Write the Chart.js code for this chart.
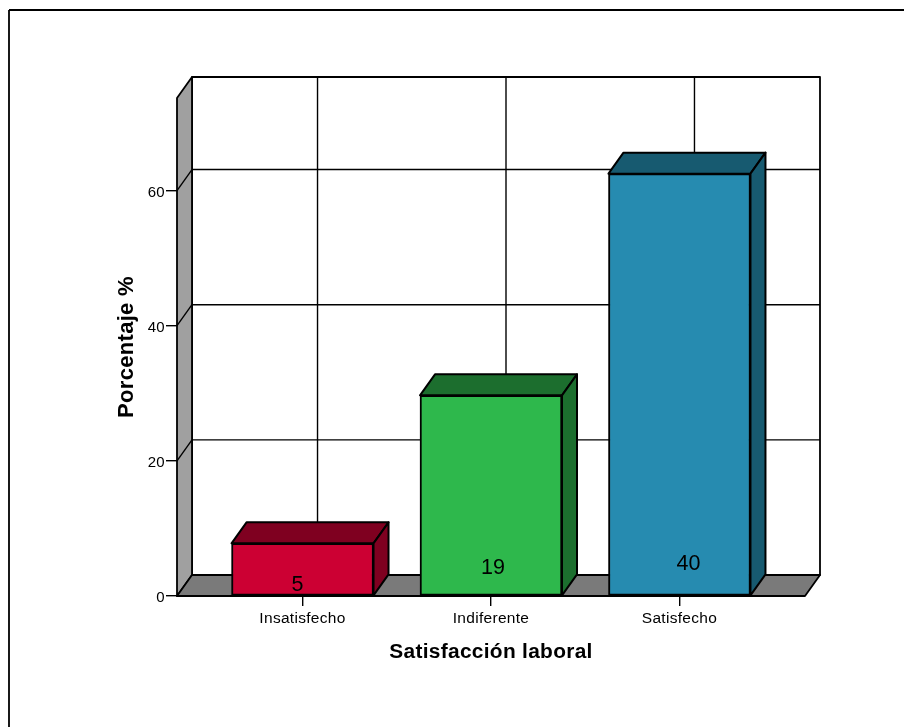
<!DOCTYPE html>
<html>
<head>
<meta charset="utf-8">
<title>Satisfacción laboral</title>
<script src="https://cdn.jsdelivr.net/npm/chart.js@4"></script>
<style>
    html, body { margin: 0; padding: 0; background: #ffffff; overflow: hidden; }
    canvas { display: block; }
</style>
</head>
<body>
<canvas id="barChart" width="904" height="727"></canvas>
<script>
const categories = ['Insatisfecho', 'Indiferente', 'Satisfecho'];
const percentages = [7.8, 29.7, 62.5];
const counts = [5, 19, 40];
const yTicks = [0, 20, 40, 60];

const frontColors = ['#CC0033', '#2EB84C', '#268BB0'];
const shadeColors = ['#7F0020', '#1C6E2E', '#175A70'];

// Offset of the back wall from the front of the box
const depthX = 15;
const depthY = -21;

// Where each count sits relative to the bar's centre and base
const countOffsets = [[-5, -10], [2, -27], [9, -31]];

function polygon(ctx, points, fill) {
    ctx.beginPath();
    points.forEach(([x, y], i) => i ? ctx.lineTo(x, y) : ctx.moveTo(x, y));
    ctx.closePath();
    if (fill) {
        ctx.fillStyle = fill;
        ctx.fill();
    }
    ctx.stroke();
}

function line(ctx, x1, y1, x2, y2) {
    ctx.beginPath();
    ctx.moveTo(x1, y1);
    ctx.lineTo(x2, y2);
    ctx.stroke();
}

// Page frame, walls, floor and grid of the 3D box
const boxPlugin = {
    id: 'box',
    beforeDraw(chart) {
        // Axis text is set a little wider than the font's default
        chart.ctx.letterSpacing = '0.3px';
    },
    beforeDatasetsDraw(chart) {
        const ctx = chart.ctx;
        const { left, right, top, bottom } = chart.chartArea;
        ctx.save();
        ctx.strokeStyle = '#000000';
        ctx.lineWidth = 1.8;
        ctx.lineJoin = 'round';

        line(ctx, 9, chart.height, 9, 10);
        line(ctx, 9, 10, chart.width, 10);

        polygon(ctx, [
            [left + depthX, top + depthY], [right + depthX, top + depthY],
            [right + depthX, bottom + depthY], [left + depthX, bottom + depthY]
        ], '#ffffff');
        polygon(ctx, [
            [left, top], [left + depthX, top + depthY],
            [left + depthX, bottom + depthY], [left, bottom]
        ], '#A0A0A0');
        polygon(ctx, [
            [left, bottom], [left + depthX, bottom + depthY],
            [right + depthX, bottom + depthY], [right, bottom]
        ], '#7A7A7A');

        ctx.lineWidth = 1.4;
        yTicks.slice(1).forEach(v => {
            const y = chart.scales.y.getPixelForValue(v);
            line(ctx, left, y, left + depthX, y + depthY);
            line(ctx, left + depthX, y + depthY, right + depthX, y + depthY);
        });
        categories.forEach((c, i) => {
            const x = chart.scales.x.getPixelForValue(i + 1) + depthX;
            line(ctx, x, top + depthY, x, bottom + depthY);
        });

        // Top and side faces of the bars
        ctx.lineWidth = 2;
        chart.getDatasetMeta(0).data.forEach((bar, i) => {
            const l = bar.x - bar.width / 2;
            const r = bar.x + bar.width / 2;
            polygon(ctx, [
                [l, bar.y], [l + depthX, bar.y + depthY],
                [r + depthX, bar.y + depthY], [r, bar.y]
            ], shadeColors[i]);
            polygon(ctx, [
                [r, bar.y], [r + depthX, bar.y + depthY],
                [r + depthX, bar.base + depthY], [r, bar.base]
            ], shadeColors[i]);
        });
        ctx.restore();
    },
    afterDatasetsDraw(chart) {
        const ctx = chart.ctx;
        ctx.save();
        ctx.letterSpacing = '0px';
        ctx.fillStyle = '#000000';
        ctx.font = '21.5px "Liberation Sans"';
        ctx.textAlign = 'center';
        ctx.textBaseline = 'middle';
        chart.getDatasetMeta(0).data.forEach((bar, i) => {
            ctx.fillText(counts[i], bar.x + countOffsets[i][0], bar.base + countOffsets[i][1]);
        });
        ctx.restore();
    }
};

new Chart(document.getElementById('barChart'), {
    type: 'bar',
    data: {
        datasets: [{
            label: 'Porcentaje %',
            data: percentages.map((y, i) => ({ x: i + 1, y })),
            backgroundColor: frontColors,
            borderColor: '#000000',
            borderWidth: 2,
            borderSkipped: false,
            barThickness: 142
        }]
    },
    options: {
        responsive: false,
        animation: false,
        layout: { padding: { top: 98, right: 99, left: 0, bottom: 0 } },
        plugins: { legend: { display: false }, tooltip: { enabled: false } },
        scales: {
            x: {
                type: 'linear',
                offset: false,
                min: 0.334,
                max: 3.666,
                afterFit: scale => { scale.height = 131; },
                afterBuildTicks: scale => { scale.ticks = categories.map((c, i) => ({ value: i + 1 })); },
                grid: { offset: false, drawOnChartArea: false, color: '#000000', lineWidth: 1.4, tickLength: 10 },
                border: { display: false },
                ticks: {
                    color: '#000000',
                    font: { family: '"Liberation Sans"', size: 15.5 },
                    padding: 3,
                    maxRotation: 0,
                    callback: v => categories[v - 1]
                },
                title: {
                    display: true,
                    text: 'Satisfacción laboral',
                    color: '#000000',
                    font: { family: '"Liberation Sans"', size: 20.9, weight: 'bold' },
                    padding: { top: 0, bottom: 62 }
                }
            },
            y: {
                min: 0,
                max: 73.7,
                afterFit: scale => { scale.width = 177; },
                afterBuildTicks: scale => { scale.ticks = yTicks.map(v => ({ value: v })); },
                grid: { drawOnChartArea: false, color: '#000000', lineWidth: 1.4, tickLength: 11 },
                border: { display: false },
                ticks: {
                    color: '#000000',
                    font: { family: '"Liberation Sans"', size: 15 },
                    padding: 1,
                    labelOffset: 2
                },
                title: {
                    display: true,
                    text: 'Porcentaje %',
                    color: '#000000',
                    font: { family: '"Liberation Sans"', size: 22, weight: 'bold' },
                    padding: { top: 114, bottom: 0 }
                }
            }
        }
    },
    plugins: [boxPlugin]
});
</script>
</body>
</html>
